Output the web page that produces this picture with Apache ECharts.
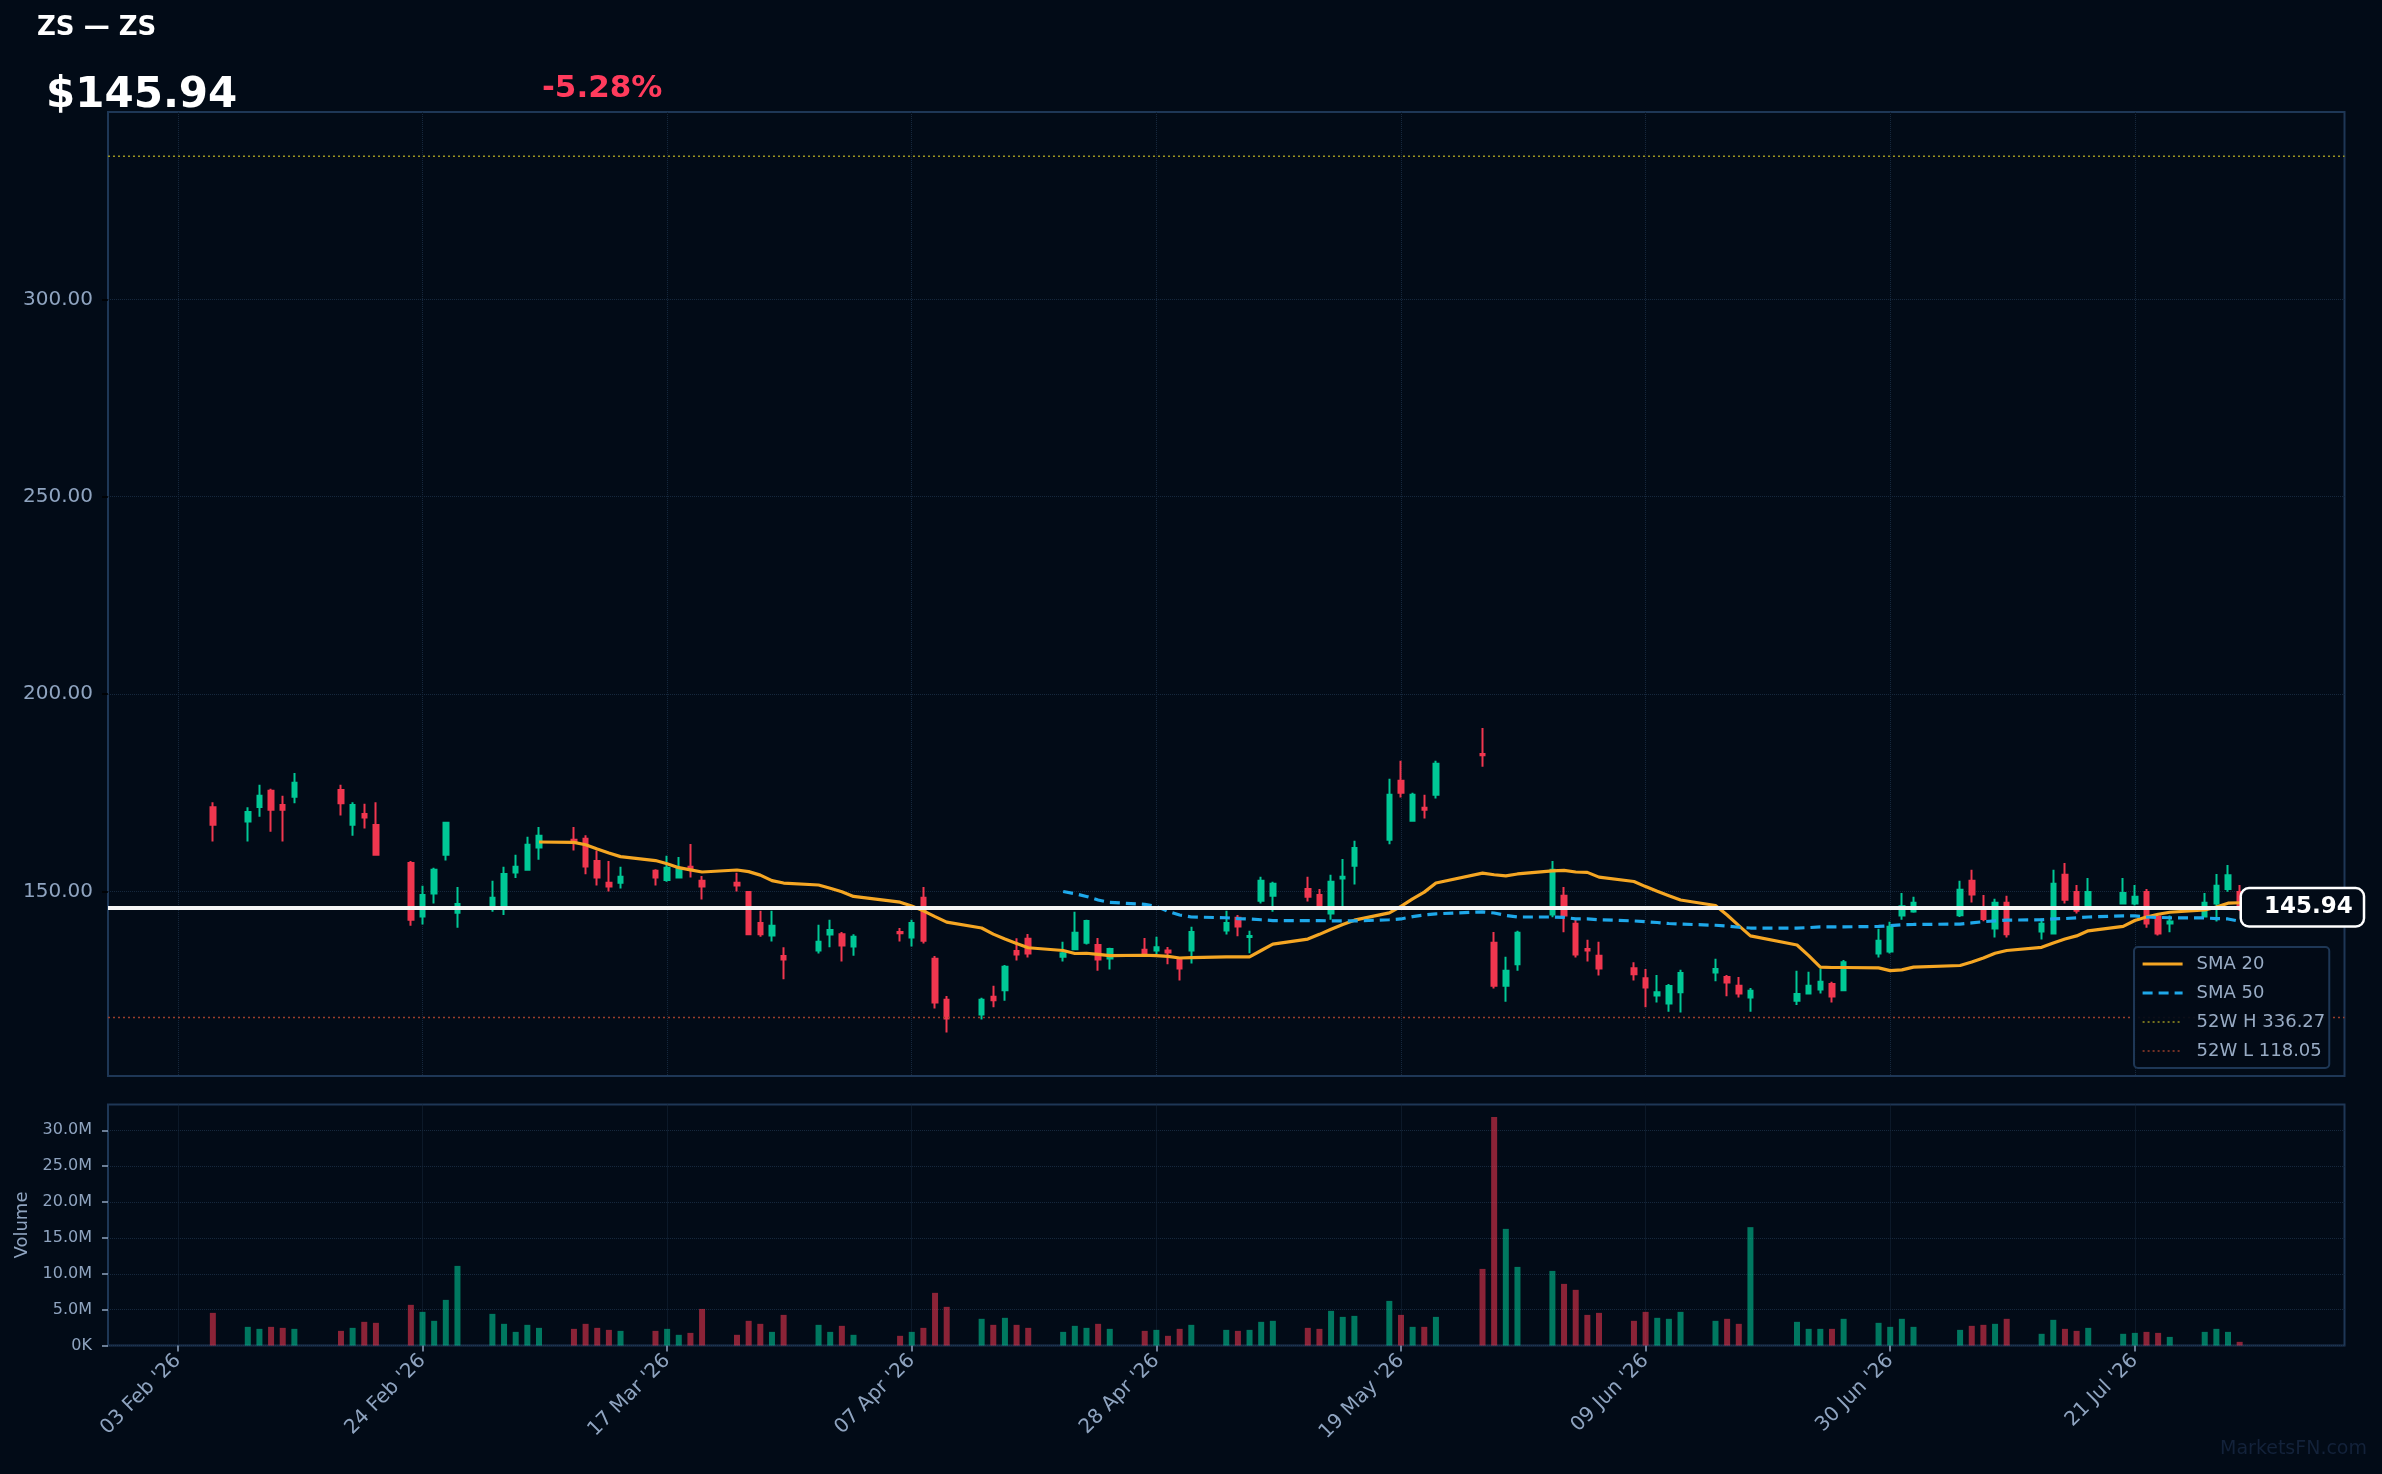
<!DOCTYPE html>
<html lang="en">
<head>
<meta charset="UTF-8">
<title>ZS — ZS</title>
<script src="https://cdn.jsdelivr.net/npm/echarts@6/dist/echarts.min.js"></script>
<style>
  html, body { margin: 0; padding: 0; background: #020b17; }
  #chart { width: 2382px; height: 1474px; }
</style>
</head>
<body>
<div id="chart"></div>
<script>
// trading days shown on the chart
var dates = [
  '2026-02-06','2026-02-09','2026-02-10','2026-02-11','2026-02-12','2026-02-13','2026-02-17','2026-02-18','2026-02-19','2026-02-20',
  '2026-02-23','2026-02-24','2026-02-25','2026-02-26','2026-02-27','2026-03-02','2026-03-03','2026-03-04','2026-03-05','2026-03-06',
  '2026-03-09','2026-03-10','2026-03-11','2026-03-12','2026-03-13','2026-03-16','2026-03-17','2026-03-18','2026-03-19','2026-03-20',
  '2026-03-23','2026-03-24','2026-03-25','2026-03-26','2026-03-27','2026-03-30','2026-03-31','2026-04-01','2026-04-02','2026-04-06',
  '2026-04-07','2026-04-08','2026-04-09','2026-04-10','2026-04-13','2026-04-14','2026-04-15','2026-04-16','2026-04-17','2026-04-20',
  '2026-04-21','2026-04-22','2026-04-23','2026-04-24','2026-04-27','2026-04-28','2026-04-29','2026-04-30','2026-05-01','2026-05-04',
  '2026-05-05','2026-05-06','2026-05-07','2026-05-08','2026-05-11','2026-05-12','2026-05-13','2026-05-14','2026-05-15','2026-05-18',
  '2026-05-19','2026-05-20','2026-05-21','2026-05-22','2026-05-26','2026-05-27','2026-05-28','2026-05-29','2026-06-01','2026-06-02',
  '2026-06-03','2026-06-04','2026-06-05','2026-06-08','2026-06-09','2026-06-10','2026-06-11','2026-06-12','2026-06-15','2026-06-16',
  '2026-06-17','2026-06-18','2026-06-22','2026-06-23','2026-06-24','2026-06-25','2026-06-26','2026-06-29','2026-06-30','2026-07-01',
  '2026-07-02','2026-07-06','2026-07-07','2026-07-08','2026-07-09','2026-07-10','2026-07-13','2026-07-14','2026-07-15','2026-07-16',
  '2026-07-17','2026-07-20','2026-07-21','2026-07-22','2026-07-23','2026-07-24','2026-07-27','2026-07-28','2026-07-29','2026-07-30'
];

var open = [
  171.3,167.7,171.4,175.5,171.9,174.0,175.7,166.9,169.6,166.8,
  157.2,143.6,149.45,159.3,144.6,146.0,146.0,154.8,155.45,161.1,
  163.05,163.3,157.7,152.15,152.2,155.2,152.9,153.5,156.2,152.7,
  152.15,149.8,142.0,138.8,133.6,135.0,139.05,139.1,136.0,139.7,
  138.3,148.35,132.9,122.5,118.8,123.3,124.9,134.9,138.0,133.4,
  135.3,137.0,136.4,133.0,135.2,135.0,135.0,132.9,135.0,140.1,
  143.3,138.4,147.6,148.9,150.6,149.1,144.4,153.25,156.5,163.1,
  178.0,167.9,171.2,174.5,184.8,137.0,126.1,131.5,144.1,148.9,
  141.8,135.4,133.7,130.5,128.0,123.6,121.6,124.4,129.4,128.3,
  126.1,123.1,122.3,124.1,125.1,126.5,124.9,134.25,134.75,143.9,
  144.9,143.96,152.7,145.4,140.6,147.1,139.8,139.3,154.2,149.8,
  145.9,146.9,146.9,149.8,143.6,141.85,143.6,146.9,150.6,149.8
];
var high = [
  172.6,171.3,177.0,176.0,174.2,180.0,177.0,172.6,172.2,172.6,
  157.7,151.4,155.95,167.6,151.1,152.7,156.2,159.25,163.8,166.3,
  166.3,164.2,160.35,157.7,156.2,155.6,159.0,158.7,162.0,153.9,
  154.7,150.0,145.1,145.1,135.85,141.5,142.8,139.7,139.1,140.7,
  142.8,151.1,133.6,123.5,123.0,126.1,131.3,138.1,139.2,137.2,
  144.8,142.8,138.2,135.7,138.2,138.5,135.9,133.3,141.0,145.05,
  144.0,140.0,153.7,152.4,153.7,150.6,154.2,158.2,162.8,178.5,
  183.1,174.96,174.45,183.1,191.4,139.7,133.4,140.0,157.7,151.1,
  142.8,137.7,137.2,132.05,130.3,128.8,126.5,130.1,132.9,128.8,
  128.3,125.5,129.85,129.6,130.45,127.1,132.6,140.5,142.3,149.6,
  148.6,152.7,155.45,149.1,148.1,148.9,143.1,155.45,157.2,151.6,
  153.4,153.4,151.6,150.6,143.6,143.9,149.6,154.4,156.7,151.6
];
var low = [
  162.6,162.6,168.9,165.1,162.6,172.3,169.2,164.1,165.9,159.3,
  141.3,141.6,146.9,157.8,140.8,144.8,144.0,153.4,155.3,158.0,
  160.35,154.3,151.5,149.96,150.7,151.5,152.4,153.25,153.5,147.9,
  149.96,139.05,138.5,137.3,127.7,134.25,135.8,132.2,133.7,137.3,
  136.0,136.8,120.3,114.2,117.5,120.6,122.3,132.5,133.2,132.2,
  135.2,136.5,129.9,130.2,133.7,134.1,131.5,127.4,131.7,139.05,
  138.6,134.3,146.9,144.8,147.4,145.7,142.8,146.2,151.7,161.9,
  173.8,167.7,168.45,173.5,181.6,125.4,122.0,129.9,143.4,139.6,
  133.2,132.2,128.7,127.4,120.6,121.8,119.5,119.3,127.2,123.4,
  123.1,119.5,121.2,123.9,124.1,121.8,124.9,133.2,134.25,142.8,
  144.6,143.5,147.2,142.4,138.3,138.3,137.8,139.05,146.9,144.4,
  145.9,146.7,146.4,140.8,138.8,139.6,143.6,142.35,149.9,145.0
];
var close = [
  166.9,170.1,174.2,170.7,170.7,177.5,172.3,171.9,168.7,159.3,
  142.8,149.1,155.45,167.4,146.8,148.35,154.4,156.2,161.8,164.1,
  162.5,156.3,153.5,151.2,153.7,153.5,155.95,155.7,155.45,151.2,
  151.5,139.1,139.1,141.3,132.7,137.2,140.2,136.3,138.5,139.4,
  142.0,137.5,121.8,117.8,122.5,122.4,130.9,134.0,134.25,134.3,
  139.5,142.5,132.7,135.4,134.0,135.85,134.5,130.45,139.7,142.0,
  141.1,138.7,152.7,151.9,148.6,145.7,152.4,153.7,161.0,174.45,
  175.0,174.45,170.7,182.3,184.5,126.1,129.9,139.5,155.45,143.9,
  134.0,135.0,130.45,129.0,125.6,124.45,126.0,129.3,130.3,126.9,
  124.1,124.8,124.0,126.1,127.1,123.35,132.05,137.5,141.0,146.2,
  147.1,150.4,149.2,143.0,147.1,139.1,141.8,151.9,147.85,145.1,
  149.8,149.6,148.6,141.85,139.3,142.35,147.1,151.4,154.08,145.94
];
// volume in millions of shares
var volumeM = [
  4.55,2.6,2.32,2.6,2.46,2.32,2.04,2.46,3.3,3.16,
  5.67,4.69,3.44,6.36,11.1,4.41,3.02,1.9,2.88,2.46,
  2.32,3.02,2.46,2.18,2.04,2.04,2.32,1.49,1.76,5.1,
  1.49,3.44,3.02,1.9,4.27,2.88,1.9,2.74,1.49,1.35,
  1.9,2.46,7.34,5.39,3.72,2.88,3.86,2.88,2.46,1.9,
  2.74,2.46,3.02,2.32,2.04,2.18,1.35,2.32,2.88,2.18,
  2.04,2.18,3.3,3.44,2.46,2.32,4.83,3.99,4.13,6.22,
  4.27,2.6,2.6,3.99,10.68,31.86,16.26,10.96,10.4,8.59,
  7.76,4.27,4.55,3.44,4.69,3.86,3.72,4.69,3.44,3.72,
  3.02,16.5,3.3,2.32,2.32,2.32,3.72,3.16,2.6,3.72,
  2.6,2.18,2.74,2.88,3.02,3.72,1.63,3.58,2.32,2.04,
  2.46,1.63,1.76,1.9,1.76,1.2,1.9,2.32,1.9,0.51
];
// SMA 20 starts on the 20th trading day, SMA 50 on the 50th
var sma20 = [
  162.5,162.4,161.8,160.7,159.7,158.8,157.8,157.0,156.0,155.45,154.9,
  155.4,155.0,154.1,152.7,152.1,151.6,150.8,149.9,148.7,
  147.25,146.3,145.05,143.6,142.2,140.7,139.15,137.9,136.8,135.7,
  135.0,134.25,134.3,134.0,133.7,133.8,133.7,133.5,133.1,133.2,
  133.4,133.4,133.4,135.0,136.6,137.9,139.1,140.4,141.6,142.7,
  144.55,146.2,148.1,149.8,152.1,154.6,154.2,153.9,154.4,155.2,
  155.3,154.9,154.8,153.6,152.5,151.2,150.0,148.9,147.8,146.4,
  144.0,141.3,138.7,136.4,133.7,130.8,130.7,130.7,130.6,129.9,
  130.1,130.8,131.2,132.1,133.1,134.3,135.0,135.8,136.9,137.9,
  138.7,140.0,141.1,142.6,143.5,144.2,144.7,145.3,146.0,147.0,
  147.1
];
var sma50 = [
  149.96,149.4,148.7,147.8,147.2,146.7,146.2,144.9,144.0,143.5,
  143.3,143.1,143.0,142.8,142.6,142.6,142.6,142.5,142.5,142.5,
  142.8,143.0,143.6,144.0,144.3,144.8,144.5,143.9,143.5,143.5,
  143.4,143.0,143.0,142.8,142.5,142.3,142.1,141.85,141.7,141.4,
  141.2,140.9,140.7,140.7,140.8,141.0,141.0,141.0,141.1,141.3,
  141.5,141.6,141.7,142.0,142.3,142.5,142.7,142.8,143.0,143.1,
  143.3,143.5,143.8,143.8,143.5,143.4,143.3,143.25,143.1,143.0,
  142.4
];

var tickDates = ['2026-02-03','2026-02-24','2026-03-17','2026-04-07','2026-04-28','2026-05-19','2026-06-09','2026-06-30','2026-07-21'];
var priceTicks = [150, 200, 250, 300];
var volumeTicks = [0, 5, 10, 15, 20, 25, 30];
var axisStart = '2026-01-28', axisEnd = '2026-08-08';
var high52 = 336.27, low52 = 118.05, lastPrice = 145.94, changePct = -5.28;

var FONT = 'DejaVu Sans';
var UP = '#00c896', DOWN = '#f0364f';
var LABEL = '#8fa4c0', GRID = '#16283d', FRAME = '#1e3756';
var MONTHS = ['Jan','Feb','Mar','Apr','May','Jun','Jul','Aug','Sep','Oct','Nov','Dec'];

// one category per calendar day, so weekends and holidays leave gaps
function nextDay(s) {
  var d = new Date(s + 'T00:00:00Z');
  d.setUTCDate(d.getUTCDate() + 1);
  return d.toISOString().slice(0, 10);
}
var cats = [];
for (var c = axisStart; c <= axisEnd; c = nextDay(c)) cats.push(c);
function fmtDate(s) {
  var p = s.split('-');
  return p[2] + ' ' + MONTHS[+p[1] - 1] + " '" + p[0].slice(2);
}
function isTick(i, v) { return tickDates.indexOf(v) >= 0; }
function xi(d) { return cats.indexOf(d); }

var candleData = dates.map(function (d, i) { return [xi(d), open[i], close[i], low[i], high[i]]; });
var volData = dates.map(function (d, i) {
  var up = close[i] >= open[i];
  return { value: [xi(d), volumeM[i]], itemStyle: { color: up ? 'rgba(0,200,150,0.58)' : 'rgba(240,54,79,0.58)' } };
});
var sma20Data = sma20.map(function (v, i) { return [xi(dates[i + 19]), v]; });
var sma50Data = sma50.map(function (v, i) { return [xi(dates[i + 49]), v]; });
var lastIdx = cats.length - 1;

var chart = echarts.init(document.getElementById('chart'));
var option = {
  backgroundColor: '#020b17',
  animation: false,
  textStyle: { fontFamily: FONT },
  graphic: [
    { type: 'text', x: 37, y: 28, style: { text: 'ZS — ZS', fill: '#ffffff', fontSize: 26, fontWeight: 'bold', fontFamily: FONT, verticalAlign: 'middle' } },
    { type: 'text', x: 46, y: 96, style: { text: '$' + lastPrice.toFixed(2), fill: '#ffffff', fontSize: 42, fontWeight: 'bold', fontFamily: FONT, verticalAlign: 'middle' } },
    { type: 'text', x: 542, y: 89, style: { text: changePct.toFixed(2) + '%', fill: '#ff3b5c', fontSize: 31, fontWeight: 'bold', fontFamily: FONT, verticalAlign: 'middle' } },
    { type: 'text', x: 2367, y: 1449, style: { text: 'MarketsFN.com', fill: '#13223a', fontSize: 19, fontFamily: FONT, align: 'right', verticalAlign: 'middle' } }
  ],
  legend: {
    data: ['SMA 20', 'SMA 50', '52W H ' + high52.toFixed(2), '52W L ' + low52.toFixed(2)],
    orient: 'vertical',
    left: 2134, top: 947,
    itemWidth: 40, itemHeight: 14, itemGap: 11,
    padding: [8, 4, 8, 7],
    backgroundColor: 'rgba(2,11,23,0.92)',
    borderColor: FRAME, borderWidth: 2, borderRadius: 4,
    selectedMode: false,
    itemStyle: { opacity: 0 },
    lineStyle: { width: 'inherit' },
    textStyle: { color: '#98abc4', fontSize: 18, fontFamily: FONT, padding: [0, 0, 0, 9] }
  },
  grid: [
    { left: 108, right: 37.5, top: 112, height: 964, show: true, borderColor: FRAME, borderWidth: 2 },
    { left: 108, right: 37.5, top: 1104.5, height: 241, show: true, borderColor: FRAME, borderWidth: 2 }
  ],
  xAxis: [
    {
      type: 'category', gridIndex: 0, data: cats, boundaryGap: false,
      axisLine: { show: false }, axisTick: { show: false }, axisLabel: { show: false },
      splitLine: { show: true, interval: isTick, lineStyle: { color: GRID, type: 'dotted', width: 1 } }
    },
    {
      type: 'category', gridIndex: 1, data: cats, boundaryGap: false,
      axisLine: { show: false },
      axisTick: { show: true, interval: isTick, length: 6, lineStyle: { color: LABEL, width: 1.5 } },
      axisLabel: { show: true, interval: isTick, rotate: 45, margin: 12, formatter: fmtDate, color: LABEL, fontSize: 20, fontFamily: FONT },
      splitLine: { show: true, interval: isTick, lineStyle: { color: GRID, type: 'dotted', width: 1 } }
    }
  ],
  yAxis: [
    {
      type: 'value', gridIndex: 0, min: 103.2, max: 347.5, scale: true,
      axisLine: { show: false },
      axisTick: { show: true, length: 6, customValues: priceTicks, lineStyle: { color: '#000000', width: 1.5 } },
      axisLabel: { customValues: priceTicks, margin: 15, color: LABEL, fontSize: 20, fontFamily: FONT, formatter: function (v) { return v.toFixed(2); } },
      splitLine: { show: true, lineStyle: { color: GRID, type: 'dotted', width: 1 } }
    },
    {
      type: 'value', gridIndex: 1, min: 0, max: 33.6,
      name: 'Volume', nameLocation: 'middle', nameGap: 77,
      nameTextStyle: { color: LABEL, fontSize: 18, fontFamily: FONT },
      axisLine: { show: false },
      axisTick: { show: true, length: 6, customValues: volumeTicks, lineStyle: { color: LABEL, width: 1.5 } },
      axisLabel: { customValues: volumeTicks, margin: 16, color: LABEL, fontSize: 16, fontFamily: FONT,
        formatter: function (v) { return v === 0 ? '0K' : v.toFixed(1) + 'M'; } },
      splitLine: { show: true, lineStyle: { color: GRID, type: 'dotted', width: 1 } }
    }
  ],
  series: [
    {
      name: 'Price', type: 'candlestick', xAxisIndex: 0, yAxisIndex: 0,
      data: candleData, encode: { x: 0, y: [1, 2, 3, 4] },
      barWidth: 5,
      itemStyle: { color: UP, color0: DOWN, borderColor: UP, borderColor0: DOWN, borderWidth: 2 },
      markLine: {
        silent: true, symbol: ['none', 'none'],
        data: [{ yAxis: lastPrice }],
        lineStyle: { color: '#f4f4f4', width: 4, type: 'solid', opacity: 1 },
        label: {
          show: true, position: 'end', distance: 0, offset: [-102.5, 0],
          formatter: lastPrice.toFixed(2),
          color: '#ffffff', fontSize: 23, fontWeight: 'bold', fontFamily: FONT,
          backgroundColor: '#020b17', borderColor: '#ffffff', borderWidth: 2.5, borderRadius: 7,
          padding: [7, 10, 6, 22]
        },
        emphasis: { disabled: true }
      }
    },
    {
      name: 'SMA 20', type: 'line', xAxisIndex: 0, yAxisIndex: 0, data: sma20Data,
      symbol: 'none', lineStyle: { color: '#f5a623', width: 3.2 }, itemStyle: { color: '#f5a623' }, z: 3
    },
    {
      name: 'SMA 50', type: 'line', xAxisIndex: 0, yAxisIndex: 0, data: sma50Data,
      symbol: 'none', lineStyle: { color: '#1ea8ea', width: 3.2, type: [10, 6] }, itemStyle: { color: '#1ea8ea' }, z: 3
    },
    {
      name: '52W H ' + high52.toFixed(2), type: 'line', xAxisIndex: 0, yAxisIndex: 0,
      data: [[0, high52], [lastIdx, high52]],
      symbol: 'none', lineStyle: { color: '#9a9320', width: 1.5, type: [2, 3] }, itemStyle: { color: '#9a9320' }
    },
    {
      name: '52W L ' + low52.toFixed(2), type: 'line', xAxisIndex: 0, yAxisIndex: 0,
      data: [[0, low52], [lastIdx, low52]],
      symbol: 'none', lineStyle: { color: '#9a3f2c', width: 1.5, type: [2, 3] }, itemStyle: { color: '#9a3f2c' }
    },
    {
      name: 'Volume', type: 'bar', xAxisIndex: 1, yAxisIndex: 1, data: volData, barWidth: 6
    }
  ]
};
chart.setOption(option);
</script>
</body>
</html>
